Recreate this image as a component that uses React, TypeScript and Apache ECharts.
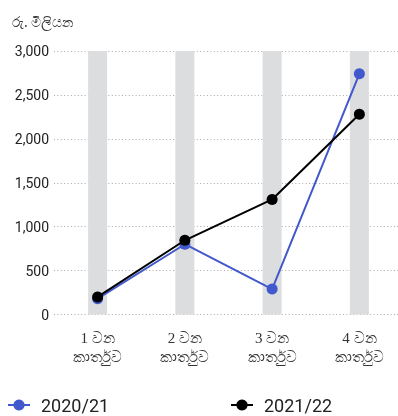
import React, { useEffect, useRef } from "react";
import * as echarts from "echarts";

const categories = ["1 වන\nකාර්තුව", "2 වන\nකාර්තුව", "3 වන\nකාර්තුව", "4 වන\nකාර්තුව"];
const series2020 = [180, 800, 290, 2740];
const series2021 = [200, 845, 1310, 2280];
const backgroundBars = [3000, 3000, 3000, 3000];
const yTicks = { min: 0, max: 3000, interval: 500 };
const unitLabel = "රු. මිලියන";
const seriesNames = ["2020/21", "2021/22"];

export default function App() {
  const ref = useRef<HTMLDivElement>(null);
  useEffect(() => {
    if (!ref.current) return;
    const chart = echarts.init(ref.current, null, { renderer: "svg" });
    chart.setOption({
      animation: false,
      title: {
        text: unitLabel,
        left: 7,
        top: 9,
        textStyle: { fontSize: 14, fontWeight: "normal", color: "#333", fontFamily: "Noto Sans, sans-serif" },
      },
      legend: [
        {
          data: [seriesNames[0]],
          left: 2,
          top: 391,
          padding: 5,
          itemWidth: 22,
          itemHeight: 14,
          textStyle: { fontSize: 18, color: "#222", padding: [0, 0, 0, 6], fontFamily: "Roboto, sans-serif" },
        },
        {
          data: [seriesNames[1]],
          left: 225,
          top: 391,
          padding: 5,
          itemWidth: 22,
          itemHeight: 14,
          textStyle: { fontSize: 18, color: "#222", padding: [0, 0, 0, 6], fontFamily: "Roboto, sans-serif" },
        },
      ],
      grid: { left: 54, top: 51, width: 349, height: 263.5, containLabel: false },
      xAxis: {
        type: "category",
        data: categories,
        axisLine: { show: false },
        axisTick: { show: false },
        axisLabel: {
          margin: 14,
          fontSize: 15,
          lineHeight: 19,
          color: "#333",
          fontFamily: "serif",
        },
      },
      yAxis: {
        type: "value",
        min: yTicks.min,
        max: yTicks.max,
        interval: yTicks.interval,
        axisLine: { show: false },
        axisTick: { show: false },
        axisLabel: {
          margin: 5,
          fontSize: 14,
          color: "#222",
          fontFamily: "Roboto, sans-serif",
          formatter: (v: number) => v.toLocaleString("en-US"),
        },
        splitLine: { lineStyle: { color: "#aaa", width: 1, type: [1, 2.4] } },
      },
      series: [
        {
          type: "bar",
          data: backgroundBars,
          barWidth: 19,
          itemStyle: { color: "#dcdddf" },
          silent: true,
          z: 1,
        },
        {
          name: seriesNames[0],
          type: "line",
          data: series2020,
          symbol: "circle",
          symbolSize: 11,
          color: "#4159cc",
          lineStyle: { width: 2, color: "#4159cc" },
          itemStyle: { color: "#4159cc" },
          z: 3,
        },
        {
          name: seriesNames[1],
          type: "line",
          data: series2021,
          symbol: "circle",
          symbolSize: 11,
          color: "#000",
          lineStyle: { width: 2, color: "#000" },
          itemStyle: { color: "#000" },
          z: 4,
        },
      ],
    });
    return () => chart.dispose();
  }, []);
  return <div ref={ref} style={{ position: "fixed", left: 0, top: 0, width: 410, height: 416 }} />;
}
